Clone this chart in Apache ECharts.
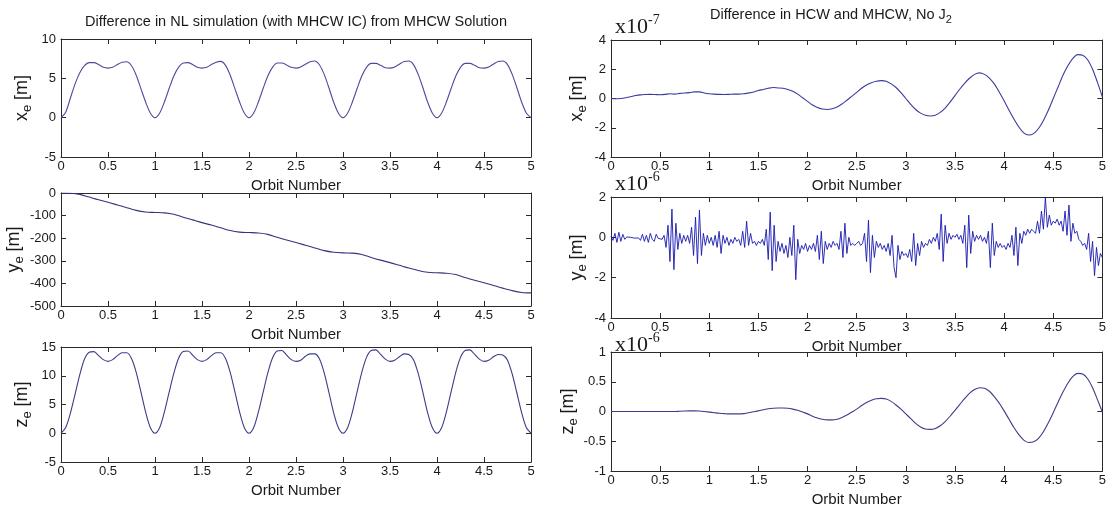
<!DOCTYPE html>
<html>
<head>
<meta charset="utf-8">
<script src="https://cdn.jsdelivr.net/npm/echarts@6/dist/echarts.min.js"></script>
<style>
  html, body { margin: 0; padding: 0; background: #ffffff; }
  #chart { width: 1109px; height: 508px; }
</style>
</head>
<body>
<div id="chart"></div>
<script>
// ---- Orbit sampling steps (orbits between samples) ----
const STEP_FINE = 0.05;
const STEP_COARSE = 0.1;
const STEP_NOISE = 0.02;

// ---- NL simulation minus MHCW solution [m] ----
const nlXe = [
  0, 0.7, 2.5, 4.3, 5.7, 6.6, 7.0, 7.0, 6.75, 6.4, 6.3, 6.4, 6.75, 7.05, 7.1, 6.6, 5.4, 3.7, 2.0, 0.6,
  0, 0.6, 2.0, 3.7, 5.3, 6.4, 6.95, 7.0, 6.75, 6.4, 6.3, 6.4, 6.75, 7.05, 7.15, 6.65, 5.4, 3.7, 2.0, 0.6,
  0, 0.6, 2.0, 3.7, 5.3, 6.4, 6.95, 6.95, 6.7, 6.4, 6.3, 6.45, 6.8, 7.1, 7.2, 6.7, 5.5, 3.8, 2.0, 0.6,
  0, 0.6, 2.0, 3.7, 5.3, 6.4, 6.9, 6.9, 6.65, 6.35, 6.3, 6.45, 6.8, 7.15, 7.2, 6.75, 5.5, 3.8, 2.0, 0.6,
  0, 0.6, 2.0, 3.7, 5.3, 6.4, 6.9, 6.9, 6.65, 6.35, 6.3, 6.45, 6.8, 7.15, 7.2, 6.75, 5.5, 3.8, 2.0, 0.6,
  0
];
const nlYe = [
  0, -1, -6, -18, -30, -41, -53, -65, -77, -84,
  -86, -88, -94, -107, -119, -131, -142, -154, -166, -173,
  -175, -177, -183, -196, -208, -219, -231, -243, -255, -262,
  -265, -266, -272, -285, -297, -308, -320, -332, -343, -351,
  -353, -355, -361, -374, -386, -397, -409, -421, -432, -440,
  -442
];
const nlZe = [
  0, 1.0, 3.5, 6.8, 10.2, 12.9, 14.1, 14.2, 13.5, 12.8, 12.5, 12.8, 13.5, 14.0, 14.0, 13.0, 10.6, 7.2, 3.7, 1.0,
  0, 1.0, 3.7, 7.1, 10.4, 13.0, 14.2, 14.3, 13.6, 12.8, 12.5, 12.8, 13.5, 14.0, 14.0, 13.0, 10.6, 7.2, 3.7, 1.0,
  0, 1.0, 3.7, 7.1, 10.5, 13.1, 14.3, 14.4, 13.6, 12.8, 12.5, 12.7, 13.4, 13.8, 13.8, 12.9, 10.5, 7.1, 3.6, 1.0,
  0, 1.0, 3.7, 7.2, 10.6, 13.2, 14.4, 14.5, 13.7, 12.9, 12.5, 12.7, 13.3, 13.8, 13.7, 12.8, 10.4, 7.1, 3.6, 1.0,
  0, 1.0, 3.7, 7.2, 10.6, 13.2, 14.4, 14.5, 13.7, 12.9, 12.5, 12.7, 13.3, 13.7, 13.6, 12.7, 10.3, 7.0, 3.6, 1.0,
  0
];

// ---- HCW minus MHCW, no J2 (x in 1e-7 m, y and z in 1e-6 m) ----
const hcwXe = [
  0.0, -0.02, 0.0, 0.05, 0.12, 0.2, 0.25, 0.27, 0.28, 0.27,
  0.26, 0.28, 0.32, 0.3, 0.35, 0.38, 0.4, 0.45, 0.45, 0.38,
  0.33, 0.3, 0.28, 0.27, 0.28, 0.3, 0.3, 0.32, 0.38, 0.45,
  0.55, 0.62, 0.7, 0.75, 0.72, 0.7, 0.62, 0.5, 0.3, 0.05,
  -0.2, -0.45, -0.62, -0.72, -0.75, -0.7, -0.58, -0.38, -0.12, 0.15,
  0.42, 0.7, 0.92, 1.08, 1.18, 1.22, 1.18, 1.0, 0.75, 0.4,
  0.0, -0.4, -0.75, -1.0, -1.15, -1.2, -1.15, -0.95, -0.65, -0.25,
  0.2, 0.65, 1.05, 1.4, 1.65, 1.75, 1.65, 1.4, 1.0, 0.45,
  -0.15, -0.8, -1.4, -1.95, -2.35, -2.5, -2.4, -2.05, -1.5, -0.8,
  0.0, 0.8, 1.6, 2.25, 2.75, 3.0, 2.95, 2.65, 2.0, 1.1,
  0.1
];
const hcwYe = [
  0.05, -0.15, 0.2, -0.25, 0.25, -0.2, 0.15, -0.1, 0.02, -0.03,
  0.0, -0.02, -0.04, -0.05, -0.03, -0.15, 0.15, -0.2, 0.1, -0.25,
  0.2, -0.1, -0.2, 0.15, -0.05, 0.0, -0.1, 0.1, -0.5, 0.6,
  -1.2, 1.4, -1.6, 0.7, -0.6, 0.2, -0.3, 0.1, -0.2, 0.1,
  -0.3, 0.5, -0.9, 1.0, -1.3, 1.35, -0.9, 0.2, -0.4, 0.1,
  -0.3, 0.0, -0.4, 0.1, -0.5, 0.3, -0.8, 0.1, -0.3, 0.0,
  -0.4, -0.1, -0.3, 0.0, -0.2, -0.1, -0.4, 0.3, -0.5, 0.8,
  -0.4, 0.2, -0.3, -0.2, -0.4, -0.2, -0.3, -0.1, -0.4, 0.4,
  -1.1, 1.25, -1.65, 0.6, -1.2, -0.2, -0.7, -0.3, -0.8, -0.4,
  -1.0, 0.0, -0.9, 0.6, -2.1, -0.1, -0.8, -0.4, -0.6, -0.3,
  -0.7, -0.4, -0.6, -0.3, -0.7, 0.1, -1.1, 0.3, -1.3, -0.2,
  -0.6, -0.3, -0.5, -0.2, -0.4, -0.3, -0.6, 0.3, -1.0, 0.7,
  -0.8, 0.0, -0.4, -0.3, -0.4, -0.3, -0.2, -0.4, -0.3, 0.2,
  -1.2, 0.85, -1.75, 0.1, -1.0, -0.2, -0.5, -0.3, -0.6, -0.4,
  -0.7, -0.3, -0.9, 0.1, -1.5, -2.0, -0.4, -1.1, -0.7, -0.9,
  -0.8, -1.0, -0.6, -1.2, 0.2, -1.4, -0.3, -0.9, -0.2, -0.5,
  -0.3, -0.4, -0.1, -0.3, 0.0, -0.2, 0.2, -0.6, 1.15, -1.2,
  0.6, -0.3, 0.2, -0.1, 0.1, 0.0, 0.15, -0.1, 0.1, -0.3,
  0.6, -1.5, 1.1, -0.8, 0.3, -0.2, 0.1, -0.1, 0.1, -0.2,
  0.0, -0.3, 0.3, -1.5, 0.7, -0.9, -0.2, -0.5, -0.3, -0.5,
  -0.4, -0.6, -0.3, -0.5, 0.1, -0.9, 0.5, -1.4, 0.2, -0.3,
  0.3, 0.1, 0.4, 0.2, 0.4, 0.3, 0.2, 0.8, 0.2, 1.3,
  0.4, 2.0, 0.5, 1.1, 0.6, 0.8, 0.7, 0.9, 0.6, 0.8,
  0.3, 1.3, 0.1, 1.6, -0.2, 0.7, 0.2, 0.3, -0.1, -0.2,
  -0.4, -0.3, -0.6, 0.2, -1.2, -0.2, -1.9, -0.5, -1.4, -0.8,
  -1.0
];
const hcwZe = [
  0, 0, 0, 0, 0, 0, 0, 0, 0, 0,
  0, 0, 0, 0, 0.005, 0.008, 0.01, 0.01, 0.008, 0.0,
  -0.01, -0.02, -0.03, -0.035, -0.04, -0.04, -0.04, -0.035, -0.02, -0.005,
  0.01, 0.03, 0.045, 0.055, 0.06, 0.06, 0.055, 0.04, 0.02, -0.01,
  -0.04, -0.08, -0.11, -0.13, -0.14, -0.14, -0.13, -0.1, -0.06, -0.01,
  0.04, 0.1, 0.15, 0.19, 0.215, 0.22, 0.21, 0.17, 0.11, 0.04,
  -0.04, -0.12, -0.2, -0.26, -0.295, -0.3, -0.285, -0.24, -0.17, -0.08,
  0.02, 0.12, 0.22, 0.31, 0.37, 0.4, 0.39, 0.34, 0.25, 0.14,
  0.01, -0.13, -0.27, -0.39, -0.48, -0.52, -0.51, -0.45, -0.34, -0.19,
  -0.02, 0.16, 0.33, 0.48, 0.59, 0.64, 0.63, 0.55, 0.4, 0.2,
  -0.01
];

// ---- Page layout (pixels) ----
const COL_L = { left: 61, width: 470 };
const COL_R = { left: 611, width: 493 };
const ROWS_L = [{ top: 39, height: 118 }, { top: 193, height: 113 }, { top: 347, height: 115 }];
const ROWS_R = [{ top: 40, height: 117 }, { top: 197, height: 121 }, { top: 352, height: 120 }];

const SANS = '"Liberation Sans", Arial, Helvetica, sans-serif';
const SERIF = '"Liberation Serif", "Times New Roman", serif';
const INK = '#1a1a1a';

const panels = [
  { col: COL_L, row: ROWS_L[0], values: nlXe, step: STEP_FINE, smooth: true,  min: -5,   max: 10, interval: 5,   name: 'x{sub|e} [m]', color: '#4b4b9a' },
  { col: COL_L, row: ROWS_L[1], values: nlYe, step: STEP_COARSE, smooth: true, min: -500, max: 0,  interval: 100, name: 'y{sub|e} [m]', color: '#34347e' },
  { col: COL_L, row: ROWS_L[2], values: nlZe, step: STEP_FINE, smooth: true,  min: -5,   max: 15, interval: 5,   name: 'z{sub|e} [m]', color: '#3c3c8a' },
  { col: COL_R, row: ROWS_R[0], values: hcwXe, step: STEP_FINE, smooth: true, min: -4,   max: 4,  interval: 2,   name: 'x{sub|e} [m]', color: '#3a3a9e', exp: '-7' },
  { col: COL_R, row: ROWS_R[1], values: hcwYe, step: STEP_NOISE, smooth: false, min: -4,  max: 2,  interval: 2,   name: 'y{sub|e} [m]', color: '#1818b0', exp: '-6' },
  { col: COL_R, row: ROWS_R[2], values: hcwZe, step: STEP_FINE, smooth: true, min: -1,   max: 1,  interval: 0.5, name: 'z{sub|e} [m]', color: '#3c3c8a', exp: '-6' }
];

const grid = [], xAxis = [], yAxis = [], series = [];
const axisLineStyle = { onZero: false, lineStyle: { color: '#2a2a2a', width: 1 } };
const tickStyle = { inside: true, length: 5, lineStyle: { color: '#2a2a2a', width: 1 } };

panels.forEach((p, i) => {
  grid.push({ left: p.col.left, width: p.col.width, top: p.row.top, height: p.row.height, containLabel: false });
  // bottom axis with labels and title
  xAxis.push({
    type: 'value', gridIndex: i, position: 'bottom', min: 0, max: 5, interval: 0.5,
    axisLine: axisLineStyle, axisTick: tickStyle, splitLine: { show: false },
    axisLabel: { color: INK, fontFamily: SANS, fontSize: 13, margin: 3 },
    name: 'Orbit Number', nameLocation: 'middle', nameGap: 21,
    nameTextStyle: { color: INK, fontFamily: SANS, fontSize: 15 }
  });
  // top edge of the box
  xAxis.push({
    type: 'value', gridIndex: i, position: 'top', min: 0, max: 5, interval: 0.5,
    axisLine: axisLineStyle, axisTick: tickStyle, splitLine: { show: false },
    axisLabel: { show: false }
  });
  yAxis.push({
    type: 'value', gridIndex: i, position: 'left', min: p.min, max: p.max, interval: p.interval,
    axisLine: axisLineStyle, axisTick: tickStyle, splitLine: { show: false },
    axisLabel: { color: INK, fontFamily: SANS, fontSize: 13, margin: 5 },
    name: p.name, nameLocation: 'middle', nameRotate: 90, nameGap: p.col === COL_L ? 27 : 22,
    nameTextStyle: {
      color: INK, fontFamily: SANS, fontSize: 18, lineHeight: 24,
      rich: { sub: { fontFamily: SANS, fontSize: 13, color: INK, verticalAlign: 'bottom' } }
    }
  });
  // right edge of the box
  yAxis.push({
    type: 'value', gridIndex: i, position: 'right', min: p.min, max: p.max, interval: p.interval,
    axisLine: axisLineStyle, axisTick: tickStyle, splitLine: { show: false },
    axisLabel: { show: false }
  });
  series.push({
    type: 'line', xAxisIndex: 2 * i, yAxisIndex: 2 * i,
    data: p.values.map((v, k) => [+(k * p.step).toFixed(2), v]),
    smooth: p.smooth ? 0.3 : false, showSymbol: false, symbol: 'none',
    lineStyle: { color: p.color, width: p.smooth ? 1.1 : 0.9 },
    clip: true, animation: false
  });
});

const graphic = [
  {
    type: 'text', x: COL_L.left + COL_L.width / 2, y: 22,
    style: { text: 'Difference in NL simulation (with MHCW IC) from MHCW Solution',
      fontFamily: SANS, fontSize: 14.5, fill: INK, align: 'center', verticalAlign: 'middle' }
  },
  {
    type: 'text', x: 831, y: 15,
    style: { text: 'Difference in HCW and MHCW, No J{sub|2}',
      fontFamily: SANS, fontSize: 14.5, lineHeight: 20, fill: INK, align: 'center', verticalAlign: 'middle',
      rich: { sub: { fontFamily: SANS, fontSize: 11, fill: INK, verticalAlign: 'bottom' } } }
  }
];
panels.forEach((p) => {
  if (!p.exp) return;
  const lift = p === panels[5] ? 7 : 1;
  graphic.push({
    type: 'text', x: p.col.left + 4, y: p.row.top + lift,
    style: { text: 'x10{sup|' + p.exp + '}', fontFamily: SERIF, fontSize: 22, lineHeight: 28,
      fill: INK, align: 'left', verticalAlign: 'bottom',
      rich: { sup: { fontFamily: SERIF, fontSize: 14, fill: INK, verticalAlign: 'top' } } }
  });
});

const chart = echarts.init(document.getElementById('chart'), null, { renderer: 'canvas' });
chart.setOption({
  backgroundColor: '#ffffff',
  animation: false,
  grid, xAxis, yAxis, series, graphic
});
</script>
</body>
</html>
